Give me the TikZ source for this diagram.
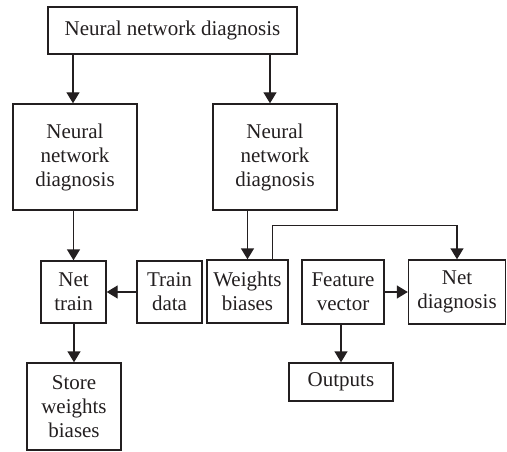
\documentclass[tikz,border=0pt]{standalone}
\usepackage{fontspec}
\setmainfont{Liberation Serif}
\usepackage{tikz}
\usetikzlibrary{arrows.meta}
\usetikzlibrary{positioning}
\definecolor{inkgray}{HTML}{231F20}

\begin{document}
\begin{tikzpicture}[x=1pt,y=1pt,
    blk/.style={draw=inkgray, line width=1.4pt, align=center, inner sep=0pt,
        font=\fontsize{21}{24}\selectfont, text=inkgray},
    arr/.style={draw=inkgray, line width=1.4pt, -{Triangle[length=11pt,width=13pt]}}]
        % Diagnosis flow chart
        \useasboundingbox (0,0) rectangle (507,451);
        \node[blk, minimum width=249pt, minimum height=47pt] (top) at (172.5,420.5) {Neural network diagnosis};
        \node[blk, minimum width=124pt, minimum height=106pt] (nnleft) at (75,294) {Neural\\network\\diagnosis};
        \node[blk, minimum width=124pt, minimum height=106pt] (nnright) at (275,294) {Neural\\network\\diagnosis};
        \node[blk, minimum width=65pt, minimum height=62pt] (nettrain) at (73.5,159) {Net\\train};
        \node[blk, minimum width=65pt, minimum height=62pt] (traindata) at (169.5,159) {Train\\data};
        \node[blk, minimum width=81pt, minimum height=63pt] (weights) at (247.5,159.5) {Weights\\biases};
        \node[blk, minimum width=82pt, minimum height=64pt] (feature) at (343,159) {Feature\\vector};
        \node[blk, minimum width=97pt, minimum height=64pt] (netdiag) at (457,159) {Net\\diagnosis};
        \node[blk, minimum width=104pt, minimum height=38pt] (outputs) at (341,69) {Outputs};
        \node[blk, minimum width=94pt, minimum height=87pt] (store) at (74,44.5) {Store\\weights\\biases};

        \draw[arr] ([xshift=-2pt]top.south -| nnleft.north) -- ([xshift=-2pt]nnleft.north);
        \draw[arr] ([xshift=-5pt]top.south -| nnright.north) -- ([xshift=-5pt]nnright.north);
        \draw[arr] (nnleft.south -| nettrain.north) -- (nettrain.north);
        \draw[arr] (nnright.south -| weights.north) -- (weights.north);
        \draw[arr] (traindata.west) -- (nettrain.east);
        \draw[arr] ([xshift=-16pt]weights.north east) -- ++(0,34) -| (netdiag.north);
        \draw[arr] (feature.east) -- (netdiag.west);
        \draw[arr] (feature.south -| outputs.north) -- (outputs.north);
        \draw[arr] (nettrain.south -| store.north) -- (store.north);
    \end{tikzpicture}
\end{document}
